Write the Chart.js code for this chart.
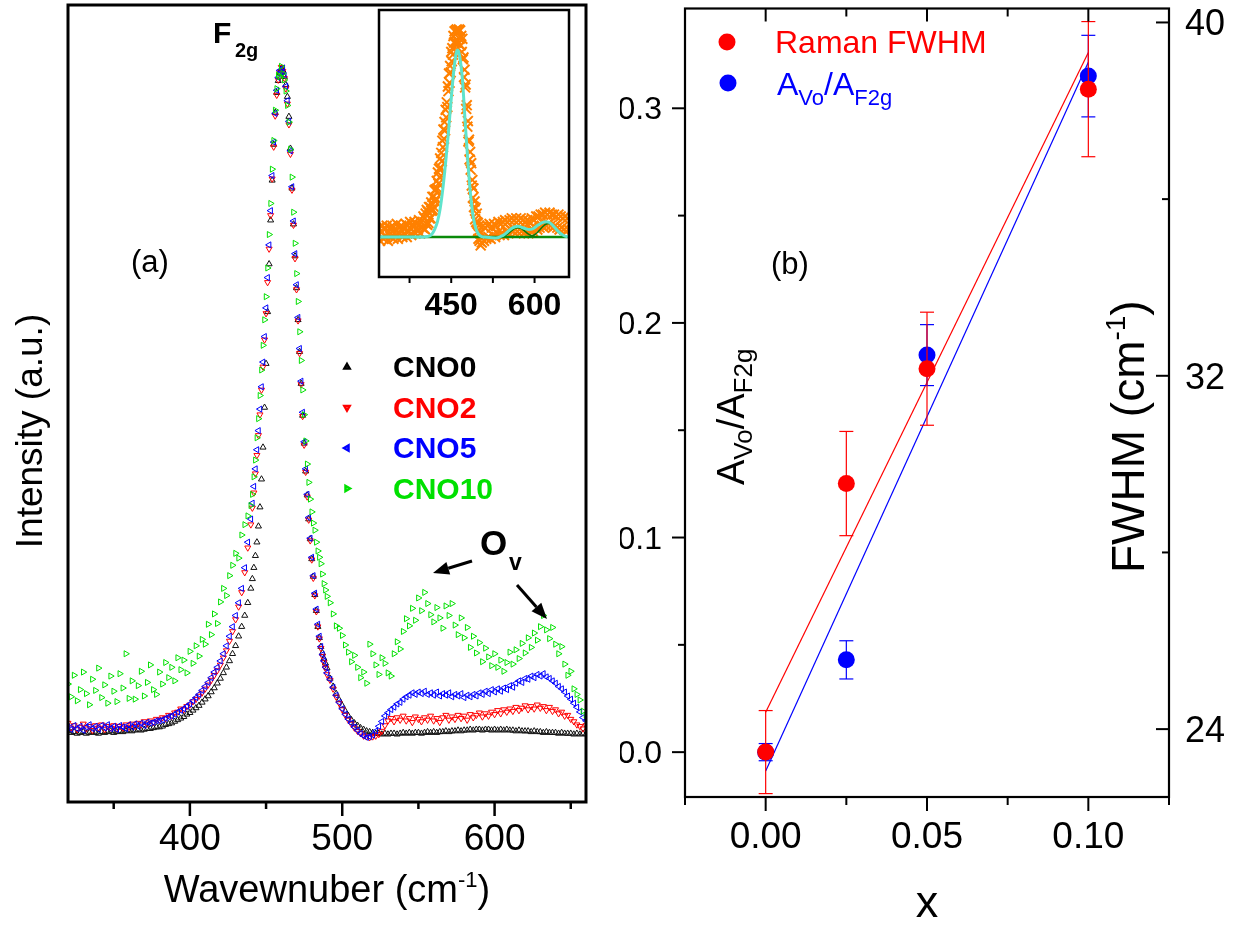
<!DOCTYPE html>
<html>
<head>
<meta charset="utf-8">
<script src="https://cdn.jsdelivr.net/npm/chart.js@4.4.0/dist/chart.umd.min.js"></script>
<style>
  body { margin: 0; background: #fff; }
  #wrap { position: relative; width: 1239px; height: 926px; }
  canvas { position: absolute; top: 0; }
</style>
</head>
<body>
<div id="wrap">
  <canvas id="panelA" width="620" height="926" style="left:0"></canvas>
  <canvas id="panelB" width="619" height="926" style="left:620px"></canvas>
  <canvas id="inset" width="220" height="330" style="left:370px"></canvas>
</div>
<script>
const FONT = '"Liberation Sans", Arial, Helvetica, sans-serif';

// ---- panel (a): Raman spectra, intensity in arbitrary units ----
const wavenumber = [
  320, 322, 324, 326, 328, 330, 332, 334, 336, 338,
  340, 342, 344, 346, 348, 350, 352, 354, 356, 358,
  360, 362, 364, 366, 368, 370, 372, 374, 376, 378,
  380, 382, 384, 386, 388, 390, 392, 394, 396, 398,
  400, 402, 404, 406, 408, 410, 412, 414, 416, 418,
  420, 422, 424, 426, 428, 430, 432, 434, 436, 438,
  440, 441, 442, 443, 444, 445, 446, 447, 448, 449,
  450, 451, 452, 453, 454, 455, 456, 457, 458, 459,
  460, 461, 462, 463, 464, 465, 466, 467, 468, 469,
  470, 471, 472, 473, 474, 475, 476, 477, 478, 479,
  480, 481, 482, 483, 484, 485, 486, 487, 488, 489,
  490,
  492, 494, 496, 498, 500, 502, 504, 506, 508, 510,
  512, 514, 516, 518, 520, 522, 524, 526, 528, 530,
  532, 534, 536, 538, 540, 542, 544, 546, 548, 550,
  552, 554, 556, 558, 560, 562, 564, 566, 568, 570,
  572, 574, 576, 578, 580, 582, 584, 586, 588, 590,
  592, 594, 596, 598, 600, 602, 604, 606, 608, 610,
  612, 614, 616, 618, 620, 622, 624, 626, 628, 630,
  632, 634, 636, 638, 640, 642, 644, 646, 648, 650,
  652, 654, 656, 658, 660
];

const cno0 = [
  8.9, 8.7, 8.8, 8.6, 8.7, 8.8, 8.6, 8.7, 8.8, 8.7,
  8.6, 8.8, 8.7, 8.8, 8.9, 8.7, 8.8, 8.9, 8.8, 8.9,
  9.0, 8.9, 9.0, 9.1, 9.0, 9.1, 9.2, 9.2, 9.3, 9.4,
  9.4, 9.5, 9.7, 9.8, 9.9, 10.1, 10.3, 10.5, 10.7, 11.0,
  11.2, 11.5, 11.8, 12.1, 12.5, 12.9, 13.3, 13.8, 14.3, 14.9,
  15.5, 16.2, 16.9, 17.7, 18.6, 19.6, 20.8, 22.0, 23.4, 25.0,
  26.8, 28.0, 29.4, 30.9, 32.6, 34.6, 37.0, 40.5, 44.5, 49.5,
  55.0, 61.5, 67.5, 73.0, 78.0, 82.5, 86.5, 89.0, 90.5, 91.5,
  92.0, 91.8, 91.0, 90.0, 88.5, 86.0, 82.0, 77.0, 72.5, 68.5,
  64.5, 60.5, 56.5, 52.5, 48.5, 45.0, 41.5, 38.5, 35.5, 33.0,
  30.5, 28.3, 26.0, 24.0, 22.0, 20.6, 19.5, 18.7, 18.0, 17.4,
  16.8,
  15.5, 14.5, 13.6, 12.8, 12.1, 11.4, 10.8, 10.3, 9.9, 9.6,
  9.3, 9.1, 8.9, 8.8, 8.7, 8.6, 8.6, 8.5, 8.6, 8.5,
  8.6, 8.6, 8.5, 8.6, 8.7, 8.6, 8.7, 8.6, 8.7, 8.7,
  8.6, 8.7, 8.8, 8.7, 8.8, 8.7, 8.8, 8.8, 8.9, 8.8,
  8.9, 8.9, 9.0, 8.9, 9.0, 9.0, 9.1, 9.0, 9.1, 9.1,
  9.0, 9.1, 9.1, 9.0, 9.1, 9.0, 9.1, 9.0, 9.1, 9.0,
  9.0, 8.9, 9.0, 8.9, 8.9, 8.9, 8.8, 8.9, 8.8, 8.8,
  8.7, 8.8, 8.7, 8.7, 8.7, 8.6, 8.7, 8.6, 8.6, 8.6,
  8.5, 8.6, 8.5, 8.6, 8.5
];

const cno2 = [
  9.9, 9.3, 9.6, 9.1, 9.4, 9.8, 9.2, 9.5, 9.0, 9.6,
  9.3, 9.7, 9.1, 9.5, 9.3, 9.6, 9.2, 9.5, 9.3, 9.7,
  9.4, 9.8, 9.5, 9.9, 9.7, 10.1, 9.8, 10.2, 10.0, 10.4,
  10.3, 10.6, 10.5, 10.9, 10.8, 11.2, 11.3, 11.7, 11.6, 12.0,
  12.2, 12.6, 12.9, 13.3, 13.7, 14.2, 14.7, 15.3, 15.9, 16.5,
  17.2, 18.1, 19.0, 20.2, 21.4, 22.9, 24.5, 26.3, 28.8, 31.9,
  34.8, 36.9, 38.8, 41.2, 43.5, 46.0, 48.6, 51.7, 54.6, 58.0,
  61.3, 65.2, 69.4, 73.6, 78.2, 82.2, 86.1, 88.7, 90.6, 91.5,
  92.2, 91.7, 90.8, 89.5, 87.6, 85.0, 81.3, 76.8, 72.4, 68.2,
  64.3, 60.4, 56.3, 52.4, 48.4, 44.8, 41.4, 38.3, 35.4, 32.8,
  30.4, 28.1, 25.9, 23.9, 22.0, 20.5, 19.3, 18.3, 17.5, 16.8,
  16.0,
  15.3, 14.2, 13.2, 12.4, 11.6, 10.9, 10.3, 9.8, 9.3, 8.9,
  8.6, 8.3, 8.2, 8.1, 8.2, 8.3, 8.5, 8.9, 9.6, 10.2,
  10.5, 10.1, 10.6, 10.3, 10.8, 10.2, 10.5, 10.0, 10.7, 10.4,
  10.1, 10.6, 10.3, 10.8, 10.2, 10.5, 10.0, 10.6, 10.9, 10.3,
  10.7, 10.4, 10.9, 10.5, 10.8, 10.3, 11.0, 10.6, 10.9, 11.2,
  10.7, 11.1, 10.8, 11.3, 11.0, 11.5, 11.1, 11.6, 11.3, 11.7,
  11.4, 11.9, 11.5, 11.8, 12.1, 11.6, 12.0, 11.7, 12.2, 11.8,
  12.0, 11.5, 11.9, 11.4, 11.6, 11.1, 11.3, 10.8, 10.9, 10.4,
  10.1, 9.7, 9.5, 9.2, 9.6
];

const cno5 = [
  9.4, 9.1, 9.6, 9.2, 9.5, 9.0, 9.4, 9.7, 9.2, 9.5,
  9.1, 9.6, 9.3, 9.7, 9.2, 9.5, 9.1, 9.6, 9.4, 9.2,
  9.7, 9.4, 9.8, 9.5, 9.9, 9.6, 10.0, 9.9, 10.0, 10.2,
  10.2, 10.3, 10.5, 10.7, 10.8, 11.0, 11.3, 11.5, 11.7, 12.0,
  12.3, 12.7, 13.1, 13.5, 14.0, 14.5, 15.0, 15.6, 16.3, 16.9,
  17.7, 18.6, 19.6, 20.8, 22.0, 23.4, 25.0, 26.8, 29.4, 32.6,
  35.5, 37.5, 39.6, 41.8, 44.2, 46.6, 49.3, 52.1, 55.2, 58.4,
  62.0, 65.8, 69.9, 74.2, 78.6, 82.8, 86.4, 89.3, 90.9, 91.8,
  91.6, 92.1, 91.2, 89.8, 88.0, 85.4, 81.7, 77.2, 72.9, 68.8,
  64.9, 60.8, 56.9, 52.8, 48.9, 45.2, 41.8, 38.6, 35.7, 33.1,
  30.7, 28.4, 26.2, 24.2, 22.3, 20.8, 19.5, 18.5, 17.7, 16.9,
  16.2,
  15.4, 14.4, 13.4, 12.5, 11.7, 11.0, 10.4, 9.9, 9.4, 9.0,
  8.6, 8.3, 8.1, 8.2, 8.4, 8.9, 9.5, 10.1, 10.8, 11.2,
  11.6, 11.9, 12.3, 12.5, 12.9, 13.2, 13.4, 13.7, 13.5, 13.8,
  13.6, 13.9, 13.5, 13.7, 13.4, 13.8, 13.3, 13.6, 13.4, 13.7,
  13.2, 13.5, 13.3, 13.6, 13.1, 13.4, 13.2, 13.5, 13.3, 13.7,
  13.5, 13.9, 13.6, 14.1, 13.8, 14.2, 13.9, 14.3, 14.1, 14.6,
  14.4, 14.9, 15.2, 15.0, 15.5, 15.4, 15.8, 15.6, 16.0, 15.8,
  16.1, 15.7, 15.5, 15.2, 14.9, 14.5, 14.2, 13.8, 13.3, 12.9,
  12.4, 11.9, 11.3, 10.6, 10.2
];

const cno10 = [
  14.8, 13.2, 15.9, 12.7, 14.1, 16.3, 13.6, 12.2, 15.4, 14.0,
  16.8, 13.1, 14.7, 12.4, 15.8, 13.9, 12.6, 16.1, 14.3, 18.6,
  13.0, 15.2, 12.9, 14.6, 16.4, 13.3, 15.0, 17.2, 14.1, 13.5,
  16.3, 14.8, 17.5, 15.6, 16.9, 15.2, 18.1, 16.6, 17.8, 16.2,
  18.9, 17.4, 19.6, 18.3, 20.4, 19.8, 22.3, 21.0, 23.6, 22.4,
  25.1, 26.8, 25.9, 28.4, 29.7, 31.2, 30.6, 33.5, 34.8, 35.9,
  37.2, 38.6, 40.8, 42.9, 45.7, 48.1, 51.0, 54.2, 57.3, 60.5,
  63.4, 67.0, 71.2, 75.1, 79.4, 83.0, 86.8, 89.5, 91.2, 91.0,
  92.3, 91.4, 90.6, 89.2, 87.4, 85.3, 81.9, 78.4, 74.0, 70.1,
  66.3, 62.8, 59.0, 55.4, 51.7, 48.6, 45.3, 42.4, 40.1, 38.0,
  36.4, 35.0, 34.1, 32.6, 31.5, 30.7, 29.9, 28.6, 27.4, 26.6,
  25.8,
  25.0, 23.6, 22.1, 21.8, 20.9, 19.7, 18.8, 17.6, 18.4, 16.9,
  15.6, 16.3, 14.9, 19.8, 18.6, 17.2, 16.0, 18.1, 17.4, 16.2,
  15.8, 18.6, 20.1, 19.2, 21.4, 23.0, 22.1, 24.3, 22.8, 25.6,
  24.0, 26.3, 24.9, 23.5, 22.6, 24.4, 23.1, 21.8, 24.6, 23.4,
  24.9, 22.2, 21.0, 23.1, 20.6, 21.9, 19.4, 20.8, 18.7, 20.0,
  17.6, 19.3, 18.2, 17.1, 18.6, 16.9, 17.8, 16.4, 17.5, 18.8,
  17.3, 19.1, 18.0, 19.9, 18.7, 20.6, 19.4, 21.2, 20.3, 22.0,
  23.4, 21.6, 20.5, 21.9, 19.8, 18.6, 19.5, 17.3, 15.9, 16.4,
  14.2, 13.5, 12.8, 11.4, 10.9
];

// ---- inset: one spectrum with its peak fit ----
const insetCm = [
  320, 322, 324, 326, 328, 330, 332, 334, 336, 338,
  340, 342, 344, 346, 348, 350, 352, 354, 356, 358,
  360, 362, 364, 366, 368, 370, 372, 374, 376, 378,
  380, 382, 384, 386, 388, 390, 392, 394, 396, 398,
  400, 401, 402, 403, 404, 405, 406, 407, 408, 409,
  410, 411, 412, 413, 414, 415, 416, 417, 418, 419,
  420, 421, 422, 423, 424, 425, 426, 427, 428, 429,
  430, 431, 432, 433, 434, 435, 436, 437, 438, 439,
  440, 441, 442, 443, 444, 445, 446, 447, 448, 449,
  450, 451, 452, 453, 454, 455, 456, 457, 458, 459,
  460, 461, 462, 463, 464, 465, 466, 467, 468, 469,
  470, 471, 472, 473, 474, 475, 476, 477, 478, 479,
  480, 481, 482, 483, 484, 485, 486, 487, 488, 489,
  490, 491, 492, 493, 494, 495, 496, 497, 498, 499,
  500, 501, 502, 503, 504, 505,
  507, 509, 511, 513, 515, 517, 519, 521, 523, 525,
  527, 529, 531, 533, 535, 537, 539, 541, 543, 545,
  547, 549, 551, 553, 555, 557, 559, 561, 563, 565,
  567, 569, 571, 573, 575, 577, 579, 581, 583, 585,
  587, 589, 591, 593, 595, 597, 599, 601, 603, 605,
  607, 609, 611, 613, 615, 617, 619, 621, 623, 625,
  627, 629, 631, 633, 635, 637, 639, 641, 643, 645,
  647, 649, 651, 653, 655, 657, 659, 661
];
const insetSpec = [
  0.05, -0.02, 0.03, 0.06, -0.01, 0.04, 0.00, 0.06, -0.02, 0.03,
  0.05, 0.00, 0.06, -0.01, 0.04, 0.01, 0.07, -0.01, 0.05, 0.02,
  0.06, 0.00, 0.05, 0.02, 0.07, 0.00, 0.06, 0.03, 0.08, 0.01,
  0.06, 0.03, 0.08, 0.02, 0.07, 0.04, 0.09, 0.02, 0.08, 0.05,
  0.11, 0.045, 0.10, 0.04, 0.125, 0.07, 0.145, 0.065, 0.135, 0.075,
  0.16, 0.10, 0.16, 0.10, 0.185, 0.14, 0.215, 0.145, 0.215, 0.16,
  0.25, 0.19, 0.255, 0.205, 0.30, 0.26, 0.345, 0.285, 0.365, 0.32,
  0.42, 0.37, 0.45, 0.405, 0.515, 0.48, 0.575, 0.525, 0.615, 0.57,
  0.68, 0.64, 0.72, 0.695, 0.805, 0.78, 0.875, 0.825, 0.915, 0.88,
  0.99, 0.94, 1.01, 0.975, 1.075, 1.04, 1.10, 1.045, 1.105, 1.04,
  1.11, 1.05, 1.10, 1.035, 1.11, 1.06, 1.105, 1.025, 1.075, 0.99,
  1.06, 0.95, 0.96, 0.855, 0.895, 0.80, 0.815, 0.685, 0.705, 0.59,
  0.62, 0.51, 0.52, 0.415, 0.455, 0.36, 0.395, 0.275, 0.305, 0.21,
  0.26, 0.16, 0.19, 0.095, 0.155, 0.08, 0.125, 0.025, 0.075, -0.01,
  0.06, -0.02, 0.02, -0.045, 0.025, -0.03,
  0.06, -0.02, 0.05, -0.01, 0.06, 0.00, 0.07, -0.01, 0.05, 0.01,
  0.07, 0.00, 0.06, 0.02, 0.08, 0.01, 0.07, 0.02, 0.08, 0.01,
  0.09, 0.03, 0.08, 0.02, 0.09, 0.04, 0.10, 0.03, 0.09, 0.04,
  0.10, 0.03, 0.09, 0.04, 0.10, 0.03, 0.09, 0.02, 0.08, 0.03,
  0.09, 0.02, 0.08, 0.04, 0.10, 0.03, 0.09, 0.05, 0.11, 0.04,
  0.11, 0.05, 0.12, 0.06, 0.12, 0.05, 0.13, 0.06, 0.12, 0.07,
  0.13, 0.06, 0.12, 0.05, 0.12, 0.06, 0.11, 0.05, 0.12, 0.04,
  0.11, 0.05, 0.10, 0.04, 0.11, 0.03, 0.10, 0.04
];
const fitCm = [
  320, 400, 405, 410, 415, 420, 425, 430, 435, 440, 445, 450, 455, 460, 462, 465, 470,
  475, 480, 485, 490, 495, 500, 505, 510, 530, 540, 545, 550, 555, 560, 565, 570, 575,
  580, 585, 590, 595, 600, 605, 610, 615, 620, 625, 630, 635, 640, 645, 650, 655, 660
];
const fitSum = [
  0, 0, 0.002, 0.005, 0.015, 0.04, 0.08, 0.15, 0.26, 0.40, 0.56, 0.74, 0.90, 0.995, 1.0, 0.97, 0.85,
  0.62, 0.40, 0.22, 0.10, 0.04, 0.012, 0.002, 0, -0.005, 0.004, 0.012, 0.024, 0.037, 0.048, 0.055, 0.057, 0.054,
  0.048, 0.043, 0.040, 0.042, 0.050, 0.061, 0.071, 0.078, 0.081, 0.079, 0.070, 0.055, 0.038, 0.023, 0.012, 0.005, 0.002
];
const peak1Cm = [540, 545, 550, 555, 560, 565, 570, 575, 580, 585, 590, 595, 600, 605];
const peak1 = [0, 0.005, 0.013, 0.025, 0.037, 0.046, 0.05, 0.046, 0.037, 0.025, 0.014, 0.007, 0.003, 0];
const peak2Cm = [590, 595, 600, 605, 610, 615, 620, 625, 630, 635, 640, 645, 650, 655, 660];
const peak2 = [0, 0.005, 0.012, 0.024, 0.04, 0.056, 0.068, 0.073, 0.068, 0.055, 0.037, 0.021, 0.01, 0.004, 0];
const baseCm = [320, 662];
const baseLevel = [0, 0];

// ---- panel (b) ----
const conc = [0, 0.025, 0.05, 0.10];
const ratio = [0.000, 0.043, 0.185, 0.315];
const ratioErr = [0.004, 0.0089, 0.0142, 0.019];
const fwhm = [23.48, 29.56, 32.16, 38.49];
const fwhmErr = [0.94, 1.18, 1.28, 1.53];
const fitConc = [0, 0.10];
const ratioFit = [-0.0088, 0.3214];
const fwhmFit = [24.38, 39.32];

const pairs = (xs, ys) => xs.map((x, i) => ({ x, y: ys[i] }));

function textRuns(ctx, runs, x, y) {
  for (const [t, font, dy] of runs) {
    ctx.font = font;
    ctx.fillText(t, x, y + dy);
    x += ctx.measureText(t).width;
  }
  return x;
}
function runsWidth(ctx, runs) {
  let w = 0;
  for (const [t, font] of runs) { ctx.font = font; w += ctx.measureText(t).width; }
  return w;
}
function seg(ctx, x1, y1, x2, y2) {
  ctx.beginPath(); ctx.moveTo(x1, y1); ctx.lineTo(x2, y2); ctx.stroke();
}
function arrow(ctx, x1, y1, x2, y2) {
  const a = Math.atan2(y2 - y1, x2 - x1), L = 16, W = 6.5;
  const bx = x2 - L * Math.cos(a), by = y2 - L * Math.sin(a);
  seg(ctx, x1, y1, bx, by);
  ctx.beginPath();
  ctx.moveTo(x2, y2);
  ctx.lineTo(bx + W * Math.sin(a), by - W * Math.cos(a));
  ctx.lineTo(bx - W * Math.sin(a), by + W * Math.cos(a));
  ctx.closePath(); ctx.fill();
}
function axis(min, max, step, fit) {
  return {
    type: 'linear', min, max,
    ticks: { display: false, stepSize: step, includeBounds: false },
    grid: { display: false, drawTicks: false },
    border: { display: false },
    afterFit: fit
  };
}
const near = (v, s) => Math.abs(v / s - Math.round(v / s)) < 1e-6;
const f = (px, bold) => (bold ? 'bold ' : '') + px + 'px ' + FONT;

// ---------- panel (a) ----------
const legendA = [['CNO0', '#000000', 0], ['CNO2', '#ff0000', 180], ['CNO5', '#0000ff', 270], ['CNO10', '#00e000', 90]];

const decorA = {
  id: 'decorA',
  afterDraw(chart) {
    const { ctx, chartArea: a, scales: { x } } = chart;
    ctx.save();
    ctx.strokeStyle = '#000'; ctx.fillStyle = '#000';
    ctx.lineWidth = 3;
    ctx.strokeRect(a.left, a.top, a.right - a.left, a.bottom - a.top);
    ctx.lineWidth = 2.5;
    ctx.textAlign = 'center';
    ctx.font = f(37);
    x.ticks.forEach(t => {
      if (!near(t.value, 50)) return;
      const px = x.getPixelForValue(t.value);
      const major = near(t.value, 100);
      seg(ctx, px, a.bottom, px, a.bottom + (major ? 14 : 7));
      if (major) ctx.fillText(String(t.value), px, 850);
    });
    ctx.textAlign = 'left';
    const xt = [['Wavewnuber (cm', f(38), 0], ['-1', f(22), -15], [')', f(38), 0]];
    textRuns(ctx, xt, (a.left + a.right) / 2 - runsWidth(ctx, xt) / 2, 902);

    ctx.save();
    ctx.translate(42, 431); ctx.rotate(-Math.PI / 2);
    ctx.textAlign = 'center'; ctx.font = f(37);
    ctx.fillText('Intensity (a.u.)', 0, 0);
    ctx.restore();

    ctx.font = f(30, true); ctx.fillText('F', 213, 43);
    ctx.font = f(20, true); ctx.fillText('2g', 235, 57);
    ctx.font = f(31); ctx.fillText('(a)', 131, 272);

    legendA.forEach(([name, color, rot], i) => {
      const yb = 377 + i * 40.5;
      ctx.strokeStyle = color; ctx.fillStyle = 'rgba(0,0,0,0)';
      Chart.helpers.drawPoint(ctx, { pointStyle: 'triangle', rotation: rot, radius: 3, borderWidth: 1 }, 347, yb - 10);
      ctx.fillStyle = color; ctx.font = f(30, true);
      ctx.fillText(name, 393, yb);
    });

    ctx.fillStyle = '#000'; ctx.strokeStyle = '#000';
    ctx.font = f(35, true); ctx.fillText('O', 480, 555);
    ctx.font = f(23, true); ctx.fillText('v', 509, 570);
    ctx.lineWidth = 3;
    arrow(ctx, 472, 561, 433, 573);
    arrow(ctx, 517, 585, 547, 619);
    ctx.restore();
  }
};

const spectrum = (label, ys, color, rot, order) => ({
  label, data: pairs(wavenumber, ys), order,
  pointStyle: 'triangle', pointRotation: rot, pointRadius: 3.5,
  pointBorderWidth: 1, pointBorderColor: color, pointBackgroundColor: 'rgba(0,0,0,0)'
});

new Chart(document.getElementById('panelA'), {
  type: 'scatter',
  data: {
    datasets: [
      spectrum('CNO0', cno0, '#111111', 0, 4),
      spectrum('CNO2', cno2, '#ff0000', 180, 3),
      spectrum('CNO5', cno5, '#0000ff', 270, 2),
      spectrum('CNO10', cno10, '#00e000', 90, 1)
    ]
  },
  options: {
    responsive: false, animation: false, devicePixelRatio: 1, events: [],
    layout: { padding: { left: 0, top: 4, right: 34, bottom: 0 } },
    plugins: { legend: { display: false }, tooltip: { enabled: false } },
    scales: {
      x: axis(320, 660, 50, s => { s.height = 124; }),
      y: axis(0, 100, 10, s => { s.width = 68; })
    }
  },
  plugins: [decorA]
});

// ---------- inset ----------
const decorInset = {
  id: 'decorInset',
  beforeDatasetsDraw(chart) {
    const { ctx, chartArea: a } = chart;
    ctx.save(); ctx.fillStyle = '#fff';
    ctx.fillRect(a.left, a.top, a.right - a.left, a.bottom - a.top);
    ctx.restore();
  },
  afterDraw(chart) {
    const { ctx, chartArea: a, scales: { x } } = chart;
    ctx.save();
    ctx.strokeStyle = '#000'; ctx.fillStyle = '#000';
    ctx.lineWidth = 2.5;
    ctx.strokeRect(a.left, a.top, a.right - a.left, a.bottom - a.top);
    ctx.lineWidth = 2;
    ctx.textAlign = 'center'; ctx.font = f(32, true);
    x.ticks.forEach(t => {
      if (!near(t.value, 75)) return;
      const px = x.getPixelForValue(t.value);
      seg(ctx, px, a.bottom, px, a.bottom + 6);
      if (near(t.value, 150)) ctx.fillText(String(t.value), px, 315);
    });
    ctx.restore();
  }
};

const fitLine = (xs, ys, color, width, order) => ({
  data: pairs(xs, ys), showLine: true, pointRadius: 0, borderColor: color,
  borderWidth: width, cubicInterpolationMode: 'monotone', order
});

new Chart(document.getElementById('inset'), {
  type: 'scatter',
  data: {
    datasets: [
      { data: pairs(insetCm, insetSpec), order: 5, pointStyle: 'crossRot', pointRadius: 7,
        pointBorderWidth: 2, pointBorderColor: '#ff8000', pointBackgroundColor: '#ff8000' },
      fitLine(baseCm, baseLevel, '#0a8a0a', 2.5, 4),
      fitLine(peak1Cm, peak1, '#0a7a0a', 1.6, 3),
      fitLine(peak2Cm, peak2, '#0a7a0a', 1.6, 3),
      fitLine(fitCm, fitSum, '#5fe3cc', 3, 1)
    ]
  },
  options: {
    responsive: false, animation: false, devicePixelRatio: 1, events: [],
    layout: { padding: { left: 0, top: 10, right: 21, bottom: 0 } },
    plugins: { legend: { display: false }, tooltip: { enabled: false } },
    scales: {
      x: axis(320, 662, 75, s => { s.height = 53; }),
      y: axis(-0.214, 1.214, 0.5, s => { s.width = 6; })
    }
  },
  plugins: [decorInset]
});

// ---------- panel (b) ----------
const decorB = {
  id: 'decorB',
  beforeDatasetDraw(chart, args) {
    const ds = chart.data.datasets[args.index];
    if (!ds.errors) return;
    const { ctx, scales } = chart;
    const x = scales.x, y = scales[ds.yAxisID];
    ctx.save();
    ctx.strokeStyle = ds.pointBackgroundColor; ctx.lineWidth = 1.2;
    ds.data.forEach((p, i) => {
      const px = x.getPixelForValue(p.x);
      const top = y.getPixelForValue(p.y + ds.errors[i]);
      const bot = y.getPixelForValue(p.y - ds.errors[i]);
      seg(ctx, px, top, px, bot);
      seg(ctx, px - 7, top, px + 7, top);
      seg(ctx, px - 7, bot, px + 7, bot);
    });
    ctx.restore();
  },
  afterDraw(chart) {
    const { ctx, chartArea: a, scales: { x, y, y1 } } = chart;
    ctx.save();
    ctx.strokeStyle = '#000'; ctx.fillStyle = '#000';
    ctx.lineWidth = 2.2;
    ctx.strokeRect(a.left, a.top, a.right - a.left, a.bottom - a.top);
    ctx.lineWidth = 2;

    ctx.textAlign = 'center'; ctx.font = f(37);
    x.ticks.forEach(t => {
      if (!near(t.value, 0.025)) return;
      const px = x.getPixelForValue(t.value);
      const major = near(t.value, 0.05);
      seg(ctx, px, a.bottom, px, a.bottom + (major ? 14 : 8));
      seg(ctx, px, a.top, px, a.top + (major ? 13 : 8));
      if (major) ctx.fillText((Math.abs(t.value) < 1e-9 ? 0 : t.value).toFixed(2), px, 848);
    });

    ctx.textAlign = 'right'; ctx.font = f(32);
    y.ticks.forEach(t => {
      if (!near(t.value, 0.05)) return;
      const py = y.getPixelForValue(t.value);
      const major = near(t.value, 0.1);
      seg(ctx, a.left - (major ? 13 : 7), py, a.left, py);
      if (major) ctx.fillText((Math.abs(t.value) < 1e-9 ? 0 : t.value).toFixed(1), 42, py + 11);
    });

    ctx.textAlign = 'left'; ctx.font = f(36);
    y1.ticks.forEach(t => {
      if (!near(t.value, 4)) return;
      const py = y1.getPixelForValue(t.value);
      const major = near(t.value, 8);
      seg(ctx, a.right - (major ? 13 : 7), py, a.right, py);
      if (major) ctx.fillText(String(Math.round(t.value)), 565, py + 13);
    });

    ctx.textAlign = 'center'; ctx.font = f(45);
    ctx.fillText('x', x.getPixelForValue(0.05), 917);

    ctx.textAlign = 'left';
    ctx.save();
    ctx.translate(124, 485); ctx.rotate(-Math.PI / 2);
    textRuns(ctx, [['A', f(38), 0], ['Vo', f(26), 8], ['/A', f(38), 0], ['F2g', f(26), 8]], 0, 0);
    ctx.restore();
    ctx.save();
    ctx.translate(524, 573); ctx.rotate(-Math.PI / 2);
    textRuns(ctx, [['FWHM (cm', f(46), 0], ['-1', f(28), -19], [')', f(46), 0]], 0, 0);
    ctx.restore();

    ctx.font = f(31); ctx.fillText('(b)', 151, 274);

    ctx.fillStyle = '#ff0000';
    ctx.beginPath(); ctx.arc(107, 42, 8.5, 0, Math.PI * 2); ctx.fill();
    ctx.font = f(32); ctx.fillText('Raman FWHM', 155, 53);
    ctx.fillStyle = '#0000ff';
    ctx.beginPath(); ctx.arc(108, 83, 8.5, 0, Math.PI * 2); ctx.fill();
    textRuns(ctx, [['A', f(32), 0], ['Vo', f(22), 10], ['/A', f(32), 0], ['F2g', f(22), 10]], 157, 95);
    ctx.restore();
  }
};

new Chart(document.getElementById('panelB'), {
  type: 'scatter',
  data: {
    datasets: [
      { data: pairs(fitConc, ratioFit), yAxisID: 'y', showLine: true, pointRadius: 0,
        borderColor: '#0000ff', borderWidth: 1.2, order: 6 },
      { data: pairs(fitConc, fwhmFit), yAxisID: 'y1', showLine: true, pointRadius: 0,
        borderColor: '#ff0000', borderWidth: 1.2, order: 5 },
      { label: 'A_Vo/A_F2g', data: pairs(conc, ratio), errors: ratioErr, yAxisID: 'y',
        pointRadius: 8.5, pointBorderWidth: 0, pointBackgroundColor: '#0000ff', order: 4 },
      { label: 'Raman FWHM', data: pairs(conc, fwhm), errors: fwhmErr, yAxisID: 'y1',
        pointRadius: 8.5, pointBorderWidth: 0, pointBackgroundColor: '#ff0000', order: 3 }
    ]
  },
  options: {
    responsive: false, animation: false, devicePixelRatio: 1, events: [],
    layout: { padding: { left: 0, top: 7, right: 0, bottom: 0 } },
    plugins: { legend: { display: false }, tooltip: { enabled: false } },
    scales: {
      x: axis(-0.025, 0.125, 0.025, s => { s.height = 129; }),
      y: Object.assign(axis(-0.0209, 0.3465, 0.05, s => { s.width = 65; }), { position: 'left' }),
      y1: Object.assign(axis(22.463, 40.316, 4, s => { s.width = 70; }), { position: 'right' })
    }
  },
  plugins: [decorB]
});
</script>
</body>
</html>
